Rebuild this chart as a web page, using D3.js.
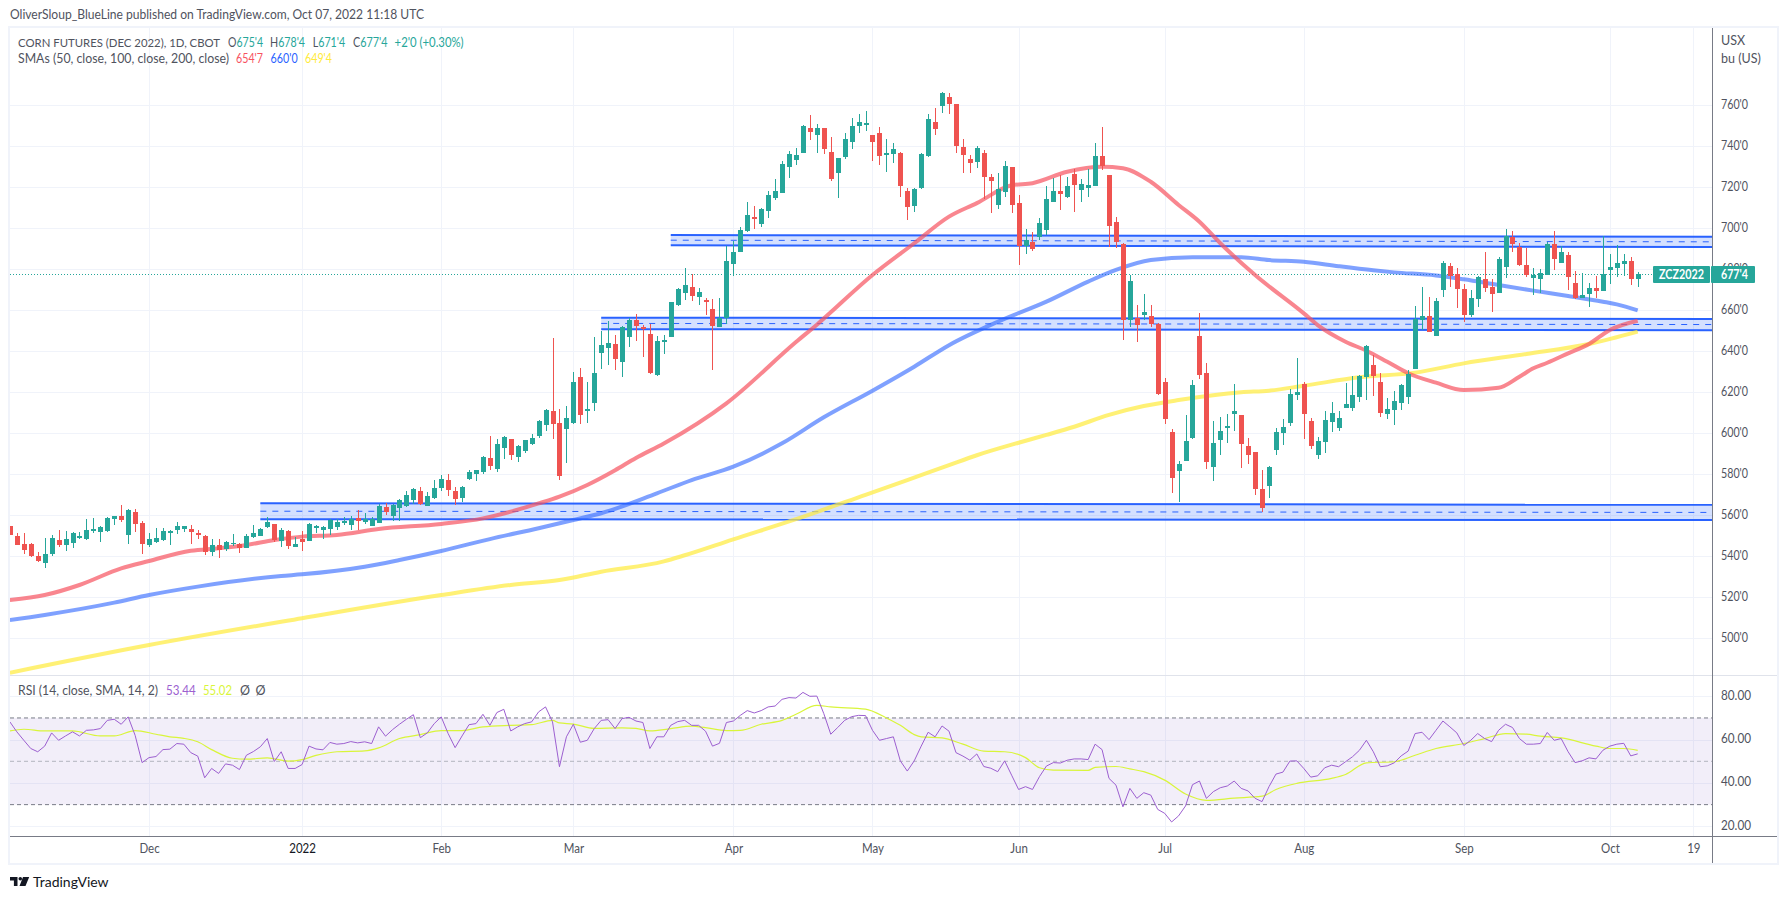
<!DOCTYPE html>
<html>
<head>
<meta charset="utf-8">
<title>Corn futures</title>
<script src="https://cdn.jsdelivr.net/npm/d3@7"></script>
<style>
html, body { margin: 0; padding: 0; background: #fff; }
svg { display: block; }
text { font-family: "Lato", sans-serif; font-size: 12.5px; fill: #50535e; }
</style>
</head>
<body>
<svg id="chart" width="1787" height="899"></svg>
<script>
//data
var opens = [
 554.8,549.9,546.0,546.0,540.2,536.7,541.1,548.0,545.5,546.5,
 548.9,548.5,552.4,551.9,552.4,558.2,559.7,550.4,561.6,556.3,
 545.5,547.0,548.0,551.4,552.8,553.3,553.3,551.4,549.9,542.1,
 545.5,543.6,546.0,546.0,544.1,549.4,549.9,554.3,555.8,547.5,
 552.4,544.6,548.5,547.5,553.8,552.8,553.3,554.3,556.3,555.3,
 558.7,556.7,554.8,556.3,564.1,559.7,563.6,564.5,567.5,571.9,
 564.5,568.4,573.3,577.2,571.9,568.4,577.7,580.2,581.1,588.0,
 582.6,592.8,597.2,588.5,591.4,594.8,598.7,604.0,610.9,605.0,
 602.1,605.0,627.5,610.9,614.8,639.2,641.6,643.6,634.8,647.0,
 655.3,651.9,648.5,628.5,644.6,647.0,662.6,668.5,671.4,666.5,
 665.0,660.7,651.9,656.3,682.6,688.5,698.7,705.5,702.1,708.4,
 714.8,717.2,729.9,733.3,736.7,749.0,745.5,749.0,737.2,727.0,
 734.8,742.1,749.9,750.4,745.5,746.5,735.8,736.3,736.7,718.2,
 710.9,719.7,735.3,751.9,759.7,764.1,760.7,739.7,733.8,732.4,
 736.8,725.0,711.4,717.7,729.9,712.4,691.4,693.3,695.8,699.2,
 712.9,718.2,715.3,726.5,718.7,719.7,720.7,735.3,726.0,703.1,
 692.4,655.3,656.3,657.7,657.2,653.3,625.0,600.6,581.6,586.5,
 597.7,647.5,629.4,583.6,596.7,602.6,609.4,609.0,593.8,590.9,
 572.9,574.3,591.9,600.2,605.0,618.7,624.1,606.0,589.4,595.8,
 605.5,602.6,612.4,612.4,617.7,627.5,633.3,625.1,609.4,611.4,
 614.8,617.7,631.4,655.3,657.2,647.5,669.9,681.6,677.7,670.4,
 657.7,665.5,675.3,671.4,668.5,681.1,695.8,690.9,682.1,675.8,
 675.3,677.2,692.4,683.1,687.0,673.3,666.0,668.0,670.9,669.4,
 679.7,680.7,682.6,684.1,675.5];
var highs = [
 554.8,551.4,551.4,546.3,542.1,548.9,550.4,552.8,552.4,551.9,
 551.9,558.2,558.7,554.8,559.2,559.7,565.0,563.1,563.1,557.2,
 551.4,553.8,553.8,552.8,556.8,554.8,555.3,552.8,550.4,548.5,
 548.5,547.5,550.9,546.5,550.9,555.3,553.8,559.2,555.8,553.8,
 552.8,549.4,552.4,556.3,555.3,554.8,558.2,558.2,559.2,559.7,
 562.6,561.1,559.2,565.5,566.0,565.5,567.9,571.9,573.3,573.8,
 571.4,577.2,579.7,580.2,573.8,574.3,582.1,582.1,588.9,598.7,
 597.2,598.7,597.2,594.3,596.8,599.7,606.5,611.9,646.5,611.9,
 613.3,629.9,631.9,625.0,647.0,649.9,654.8,648.0,652.4,656.3,
 658.2,652.8,653.3,647.5,648.0,664.1,670.9,680.7,677.7,670.9,
 666.0,665.5,666.0,691.4,693.8,700.7,712.8,710.9,709.9,718.2,
 724.1,732.8,737.7,739.2,750.4,755.3,750.9,749.0,744.6,734.3,
 746.5,753.8,755.8,757.2,745.5,749.4,743.6,741.6,737.2,719.7,
 719.7,736.7,755.8,758.7,766.5,766.0,760.7,743.6,735.8,740.2,
 738.2,726.5,727.0,732.9,729.9,716.3,699.7,698.2,705.0,720.7,
 724.6,726.0,725.0,729.0,724.1,729.0,741.6,749.4,726.0,705.5,
 692.9,677.2,662.6,668.0,662.6,653.8,627.0,602.1,586.5,609.0,
 626.0,658.7,634.3,606.0,608.0,609.4,624.1,609.0,597.7,590.9,
 582.1,584.1,602.6,607.0,621.6,636.7,625.0,607.5,598.2,610.9,
 615.3,610.9,624.6,628.0,628.5,643.1,638.2,629.4,617.2,620.7,
 624.1,630.9,662.1,671.4,666.5,666.0,684.1,683.1,680.7,672.8,
 669.9,676.8,688.5,675.3,686.0,699.7,698.7,692.9,690.4,680.7,
 680.2,693.3,698.7,691.4,688.5,679.2,678.2,673.3,676.8,696.3,
 687.5,691.9,687.5,686.0,678.5];
var lows = [
 550.4,545.5,541.1,539.8,537.2,534.3,540.2,544.6,542.6,544.1,
 548.5,548.0,551.4,547.0,551.9,555.3,556.8,546.0,551.9,541.1,
 544.6,546.5,547.5,545.5,550.9,551.9,546.0,548.5,540.7,540.2,
 539.2,542.6,545.0,541.6,544.1,548.9,549.9,553.8,547.0,544.6,
 543.6,544.6,542.6,547.5,551.4,548.5,550.4,552.8,555.3,552.8,
 552.8,555.8,554.8,556.3,560.2,557.2,557.2,564.1,565.5,565.0,
 564.5,567.9,571.9,569.4,565.0,566.5,577.2,576.7,580.2,582.1,
 581.1,587.5,587.0,586.0,590.4,594.3,597.7,601.1,597.2,577.2,
 585.5,604.5,604.5,605.0,610.9,631.4,633.3,630.9,627.5,642.1,
 645.0,637.2,628.9,628.0,638.7,647.0,662.1,665.0,664.6,662.6,
 657.7,630.9,651.9,653.3,676.7,688.5,698.2,699.7,700.7,705.0,
 713.8,717.2,724.6,730.9,736.7,743.1,736.7,736.3,723.1,714.8,
 733.8,738.7,746.5,747.5,732.8,730.9,727.5,731.9,715.3,704.1,
 708.0,719.2,734.8,745.5,756.3,755.8,736.7,727.0,727.0,729.4,
 714.3,707.5,709.4,715.3,707.5,682.1,687.5,689.0,694.3,696.8,
 712.9,709.0,714.8,708.0,712.9,715.3,720.7,728.5,690.9,690.4,
 645.5,651.9,644.6,655.3,651.9,618.7,604.6,570.9,566.5,586.5,
 597.2,626.5,582.6,576.7,589.4,595.3,601.1,583.1,585.0,569.9,
 561.6,568.5,589.4,594.3,603.6,616.3,597.2,592.4,587.5,590.4,
 600.7,601.2,612.4,610.9,615.3,616.3,618.2,608.0,607.0,604.1,
 611.4,614.3,631.4,650.4,649.4,647.5,666.5,671.4,661.1,654.3,
 656.8,661.6,669.0,659.2,668.5,675.8,688.5,681.6,676.3,667.5,
 668.5,677.2,679.7,683.1,669.9,665.5,666.0,661.6,666.0,669.4,
 672.8,676.3,676.8,672.4,671.5];
var closes = [
 550.6,545.5,543.1,540.2,537.7,541.1,548.9,545.5,548.5,551.4,
 549.9,552.8,553.3,554.3,558.7,559.7,557.7,562.6,555.8,546.0,
 548.5,548.9,552.4,552.4,554.8,554.8,551.9,550.4,542.1,545.5,
 543.1,547.0,546.5,544.1,549.9,551.4,553.3,556.8,548.0,552.8,
 545.0,546.0,547.0,555.8,554.8,554.3,557.7,556.7,557.2,558.2,
 557.2,558.2,558.2,564.5,561.6,565.0,567.5,569.9,572.9,565.5,
 569.4,573.3,577.7,572.4,567.9,573.8,581.1,582.1,588.5,584.0,
 594.8,598.2,589.4,593.8,596.8,597.7,606.0,611.4,604.5,579.2,
 607.5,625.0,608.9,611.9,629.4,643.1,644.1,636.3,651.9,655.3,
 652.4,650.9,629.4,645.0,645.5,664.1,670.4,672.4,667.0,668.9,
 664.1,652.4,656.3,684.1,688.5,699.2,706.5,704.6,709.4,716.3,
 718.2,731.4,736.3,735.8,749.9,747.0,749.0,738.7,724.1,734.3,
 743.6,749.9,751.9,751.4,742.1,735.3,736.7,738.7,720.7,710.4,
 719.2,736.3,753.3,748.5,766.0,760.7,740.2,735.8,731.9,739.2,
 725.0,723.1,719.2,730.4,711.4,691.4,694.3,689.9,702.6,714.3,
 718.2,716.7,720.7,721.1,721.6,721.1,735.3,730.4,701.1,693.3,
 655.3,674.3,652.8,659.2,653.3,619.2,607.0,578.2,585.0,596.3,
 623.6,628.5,586.0,595.3,601.1,603.6,610.9,594.8,589.4,572.9,
 563.6,583.6,600.6,603.1,619.2,620.2,609.4,593.8,596.3,606.5,
 610.0,607.5,614.3,618.7,628.0,642.6,628.0,610.0,611.9,615.8,
 623.6,629.0,655.8,657.2,649.4,664.6,683.1,676.8,670.4,657.7,
 666.0,676.3,670.9,668.0,685.0,696.3,692.4,682.1,677.2,677.2,
 678.2,692.4,685.0,688.5,676.3,666.0,667.5,670.9,669.4,677.7,
 681.1,683.1,684.1,675.3,677.5];

var rsi = [
 68.2,63.6,59.7,55.9,54.4,57.0,63.1,59.7,61.7,63.6,
 61.7,64.3,64.5,65.1,68.9,69.4,67.1,70.5,62.0,49.4,
 51.7,52.2,55.4,55.6,58.2,57.9,54.0,52.4,42.4,46.7,
 44.4,48.8,48.2,46.2,52.8,54.5,56.7,60.5,49.9,54.4,
 46.7,46.7,48.5,57.0,55.7,55.3,58.7,57.9,58.2,59.1,
 58.5,59.0,58.2,65.9,61.6,64.6,67.1,69.4,71.5,60.9,
 63.1,67.4,70.5,62.8,56.3,61.7,66.9,67.4,71.7,66.6,
 72.5,74.0,64.0,65.9,67.4,68.2,72.8,75.1,68.2,47.5,
 61.3,67.1,58.8,59.7,65.1,68.9,69.2,65.1,69.7,70.3,
 68.6,67.9,55.9,61.3,61.3,66.6,68.3,68.9,66.6,66.6,
 63.9,57.0,58.3,67.9,68.6,71.2,73.4,72.3,73.4,75.1,
 75.5,78.6,79.4,79.2,81.8,80.0,80.1,72.0,62.5,65.6,
 68.9,70.6,71.2,71.1,64.3,59.7,60.5,61.3,50.2,45.5,
 50.2,57.0,63.4,61.3,66.3,63.9,54.0,52.4,50.5,53.4,
 47.6,46.8,45.2,50.2,43.6,37.0,38.3,37.0,42.9,47.8,
 49.4,49.2,50.5,51.1,51.1,50.8,57.9,55.4,42.1,39.0,
 29.0,37.5,32.9,35.5,34.4,27.8,26.0,22.0,24.8,29.4,
 39.2,40.9,32.9,36.0,37.8,38.6,40.9,37.5,36.3,32.9,
 31.4,38.3,44.1,45.0,50.1,50.2,46.7,42.7,43.3,47.0,
 48.2,47.5,49.8,52.1,55.1,59.7,54.4,47.5,47.9,49.3,
 52.5,54.7,62.8,63.4,60.0,64.3,68.6,65.9,63.1,57.3,
 59.7,62.8,60.5,59.1,64.3,67.1,65.6,60.5,57.9,57.9,
 58.2,63.3,59.7,60.5,54.4,49.4,50.2,51.6,51.1,55.1,
 57.0,57.9,58.3,52.5,53.44];

var sma50Bars = [0,5,10,16,20,26,30,34,38,42,47,53,62,68,72,76,79,83,87,90,94,103,113,116,124,130,135,139,144,147,152,157,160,164,168,171,174,179,186,188,192,195,198,201,205,209,214,217,219,221,224,227,230,234];
var sma50Vals = [518.7,521.1,526,534.1,537.7,542.7,543.9,545.5,548,549.6,550.4,553.3,555.8,558.5,561.8,565.8,569.1,574.8,582,588,595,614.6,644.5,653,677.2,692.7,705.7,712.3,721,722,727.6,730,729.3,722.7,711.4,703.2,692.7,677.2,658.5,652.8,644.7,640.3,634.9,629.3,624.7,621.1,622.2,627.6,631.7,634.4,639,643.6,650.4,654.9];
var sma100Bars = [0,5,15,20,27,39,42,51,56,62,69,76,81,85,93,98,104,111,117,124,130,135,142,149,155,159,164,170,177,181,186,191,196,199,205,209,214,219,224,229,231,234];
var sma100Vals = [508.9,511.4,517.4,521.1,525.2,530.4,531.2,534.9,538.2,542.6,548.4,553.7,557.7,561,570.7,577.2,583.7,595.1,607.8,620.8,632.5,643,654.4,664.2,674,679.7,684.5,685.9,685.9,684.5,683.7,681.5,679.5,678.5,677,675.1,672.3,669.6,667,664.2,662.9,660];
var sma200Bars = [0,20,42,62,72,79,85,94,97,104,113,123,129,135,139,145,149,153,158,163,168,177,181,186,194,202,209,218,227,234];
var sma200Vals = [483.2,496.7,509.8,521.1,526,528.4,532.5,537.5,540.5,548.3,558.1,570,577.2,584.5,589.3,595.4,599.2,603.2,609,613.3,616.2,620,620.8,623.2,627.3,629.6,634.1,638.7,643.6,649.6];
var rsiMaBars = [0,2,5,9,13,15,18,21,23,25,27,29,32,34,37,40,42,44,47,51,53,56,59,62,65,68,72,75,78,79,81,84,88,90,92,95,98,100,103,105,108,111,113,116,118,123,126,128,130,131,134,137,140,143,146,148,150,155,156,159,161,163,166,169,172,176,180,182,185,190,192,195,199,202,205,209,212,215,218,220,223,228,230,232,234];
var rsiMaVals = [64.0,64.8,64.0,64.0,61.7,61.7,64.2,62.5,61.3,60.6,59.0,55.4,51.4,51.0,51.6,50.1,50.8,52.7,54.4,54.8,56.2,60.5,62.3,64.2,64.2,65.9,66.6,66.9,68.9,67.7,67.2,65.2,65.4,65.2,64.0,65.1,66.2,65.5,64.2,64.3,67.1,68.9,71.7,75.8,75.1,74.1,70.0,66.6,62.3,61.3,60.8,57.9,54.7,54.4,51.7,47.0,45.9,45.8,47.2,47.6,46.5,45.2,41.3,34.9,32.0,33.0,33.9,37.0,39.8,42.1,43.9,49.3,49.8,52.8,55.9,58.2,60.5,62.8,62.5,61.6,60.8,57.0,55.9,55.9,55.02];

// support and resistance channels: start bar, end bar, top and bottom edge at both ends
var zoneStartBars = [36,85,95];
var zoneEndBars = [245,245,245];
var zoneTopStart = [565.9,656.4,696.7];
var zoneTopEnd = [565.1,655.8,695.9];
var zoneBottomStart = [558.1,650.8,691.7];
var zoneBottomEnd = [557.7,650.3,690.9];

var priceTicks = [500,520,540,560,580,600,620,640,660,680,700,720,740,760];
var rsiTicks = [20,40,60,80];
var rsiLevels = [70,50,30];
var timeTickBars = [20,42,62,81,104,124,145,166,186,209,230,242];
var timeTickLabels = ["Dec","2022","Feb","Mar","Apr","May","Jun","Jul","Aug","Sep","Oct","19"];
var lastPrice = 677.5;

//colours
var upColor = "#26a69a", downColor = "#ef5350", zoneColor = "#2962ff";
var sma50Color = "#f7525f", sma100Color = "#2962ff", sma200Color = "#ffeb3b";
var rsiColor = "#9c5fd0", rsiMaColor = "#d9f53a", gridColor = "#f0f3fa", axisColor = "#787b86";

//layout
var leftX = 10, axisX = 1712, rightX = 1777, topY = 28, paneBottom = 675, timeY = 836, bottomY = 863;

var x = d3.scaleLinear().domain([0,234]).range([9.9,1637.7]);
var y = d3.scaleLinear().domain([500,760]).range([638.3,105.3]);
var yRsi = d3.scaleLinear().domain([20,80]).range([826.3,696.3]);

var svg = d3.select("#chart");
var defs = svg.append("defs");
defs.append("clipPath").attr("id","mainClip").append("rect")
	.attr("x",leftX).attr("y",topY).attr("width",axisX-leftX).attr("height",paneBottom-topY);
defs.append("clipPath").attr("id","rsiClip").append("rect")
	.attr("x",leftX).attr("y",paneBottom).attr("width",axisX-leftX).attr("height",timeY-paneBottom);

//squeeze a text to the width it has in the reference
function fit(sel,width){
	sel.attr("textLength",width).attr("lengthAdjust","spacingAndGlyphs");
}

//title
fit(svg.append("text").attr("x",10).attr("y",19)
	.text("OliverSloup_BlueLine published on TradingView.com, Oct 07, 2022 11:18 UTC"),414);

//grid
var grid = svg.append("g");
grid.selectAll(".vgrid").data(timeTickBars).enter().append("line").attr("class","vgrid")
	.attr("x1",function(d){ return Math.round(x(d))+0.5; })
	.attr("x2",function(d){ return Math.round(x(d))+0.5; })
	.attr("y1",topY).attr("y2",timeY)
	.attr("stroke",gridColor);
grid.selectAll(".hgrid").data(priceTicks).enter().append("line").attr("class","hgrid")
	.attr("x1",leftX).attr("x2",axisX)
	.attr("y1",function(d){ return Math.round(y(d))+0.5; })
	.attr("y2",function(d){ return Math.round(y(d))+0.5; })
	.attr("stroke",gridColor);
grid.selectAll(".rgrid").data(rsiTicks).enter().append("line").attr("class","rgrid")
	.attr("x1",leftX).attr("x2",axisX)
	.attr("y1",function(d){ return Math.round(yRsi(d))+0.5; })
	.attr("y2",function(d){ return Math.round(yRsi(d))+0.5; })
	.attr("stroke",gridColor);

//last price dotted line
svg.append("line")
	.attr("x1",leftX).attr("x2",axisX)
	.attr("y1",Math.round(y(lastPrice))+0.5).attr("y2",Math.round(y(lastPrice))+0.5)
	.attr("stroke",upColor).attr("stroke-dasharray","1,2");

//main pane
var main = svg.append("g").attr("clip-path","url(#mainClip)");

//channels
zoneStartBars.forEach(function(start,i){
	var end = zoneEndBars[i];
	main.append("path")
		.attr("d",d3.line()([
			[x(start),y(zoneTopStart[i])],[x(end),y(zoneTopEnd[i])],
			[x(end),y(zoneBottomEnd[i])],[x(start),y(zoneBottomStart[i])]
		])+"Z")
		.attr("fill",zoneColor).attr("fill-opacity",0.2);
	main.append("line")
		.attr("x1",x(start)).attr("x2",x(end))
		.attr("y1",y(zoneTopStart[i])).attr("y2",y(zoneTopEnd[i]))
		.attr("stroke",zoneColor).attr("stroke-width",2);
	main.append("line")
		.attr("x1",x(start)).attr("x2",x(end))
		.attr("y1",y(zoneBottomStart[i])).attr("y2",y(zoneBottomEnd[i]))
		.attr("stroke",zoneColor).attr("stroke-width",2);
	main.append("line")
		.attr("x1",x(start)).attr("x2",x(end))
		.attr("y1",y((zoneTopStart[i]+zoneBottomStart[i])/2))
		.attr("y2",y((zoneTopEnd[i]+zoneBottomEnd[i])/2))
		.attr("stroke",zoneColor).attr("stroke-dasharray","6,6");
});

//moving averages
function drawAverage(parent,bars,vals,scale,color,width,opacity){
	var line = d3.line()
		.x(function(d){ return x(d); })
		.y(function(d,i){ return scale(vals[i]); })
		.curve(d3.curveMonotoneX);
	parent.append("path")
		.attr("d",line(bars))
		.attr("fill","none")
		.attr("stroke",color)
		.attr("stroke-width",width)
		.attr("stroke-opacity",opacity);
}
drawAverage(main,sma200Bars,sma200Vals,y,sma200Color,4,0.7);
drawAverage(main,sma100Bars,sma100Vals,y,sma100Color,4,0.6);
drawAverage(main,sma50Bars,sma50Vals,y,sma50Color,4,0.7);

//candles
var candles = main.selectAll(".candle").data(closes).enter().append("g").attr("class","candle")
	.attr("shape-rendering","crispEdges");
candles.append("line")
	.attr("x1",function(d,i){ return Math.round(x(i))+0.5; })
	.attr("x2",function(d,i){ return Math.round(x(i))+0.5; })
	.attr("y1",function(d,i){ return y(highs[i]); })
	.attr("y2",function(d,i){ return y(lows[i]); })
	.attr("stroke",function(d,i){ return d>=opens[i] ? upColor : downColor; });
candles.append("rect")
	.attr("x",function(d,i){ return Math.round(x(i))-2; })
	.attr("width",5)
	.attr("y",function(d,i){ return y(Math.max(d,opens[i])); })
	.attr("height",function(d,i){ return Math.max(1,Math.abs(y(d)-y(opens[i]))); })
	.attr("fill",function(d,i){ return d>=opens[i] ? upColor : downColor; });

//rsi pane
svg.append("rect")
	.attr("x",leftX).attr("width",axisX-leftX)
	.attr("y",yRsi(70)).attr("height",yRsi(30)-yRsi(70))
	.attr("fill","#7e57c2").attr("fill-opacity",0.1);
svg.selectAll(".level").data(rsiLevels).enter().append("line").attr("class","level")
	.attr("x1",leftX).attr("x2",axisX)
	.attr("y1",function(d){ return yRsi(d); })
	.attr("y2",function(d){ return yRsi(d); })
	.attr("stroke",function(d){ return d==50 ? "#b2b5be" : axisColor; })
	.attr("stroke-dasharray","4,3");
var rsiPane = svg.append("g").attr("clip-path","url(#rsiClip)");
drawAverage(rsiPane,rsiMaBars,rsiMaVals,yRsi,rsiMaColor,1.2,1);
rsiPane.append("path")
	.attr("d",d3.line()
		.x(function(d,i){ return x(i); })
		.y(function(d){ return yRsi(d); })(rsi))
	.attr("fill","none").attr("stroke",rsiColor).attr("stroke-width",1);

//frame and separators
svg.append("rect").attr("x",leftX-1).attr("y",topY-1).attr("width",rightX-leftX+2).attr("height",bottomY-topY+2)
	.attr("fill","none").attr("stroke",gridColor).attr("stroke-width",2);
svg.append("line").attr("x1",leftX).attr("x2",rightX).attr("y1",paneBottom+0.5).attr("y2",paneBottom+0.5).attr("stroke","#e0e3eb");
svg.append("line").attr("x1",leftX).attr("x2",rightX).attr("y1",timeY+0.5).attr("y2",timeY+0.5).attr("stroke",axisColor);
svg.append("line").attr("x1",axisX+0.5).attr("x2",axisX+0.5).attr("y1",topY).attr("y2",bottomY).attr("stroke",axisColor);

//axes
var priceAxis = d3.axisRight(y).tickValues(priceTicks).tickSize(0).tickPadding(0)
	.tickFormat(function(d){ return d+"'0"; });
var rsiAxis = d3.axisRight(yRsi).tickValues(rsiTicks).tickSize(0).tickPadding(0)
	.tickFormat(function(d){ return d3.format(".2f")(d); });
var timeAxis = d3.axisBottom(x).tickValues(timeTickBars).tickSize(0).tickPadding(0)
	.tickFormat(function(d,i){ return timeTickLabels[i]; });

var priceG = svg.append("g").attr("class","axis").attr("transform","translate(1721,-1)").call(priceAxis);
var rsiG = svg.append("g").attr("class","axis").attr("transform","translate(1721,-1)").call(rsiAxis);
var timeG = svg.append("g").attr("class","axis").attr("transform","translate(0,844)").call(timeAxis);
svg.selectAll(".axis path").remove();
svg.selectAll(".axis").attr("font-family",null).attr("font-size",null);
fit(priceG.selectAll("text"),27);
fit(rsiG.selectAll("text"),30);
timeG.selectAll("text").each(function(){
	var t = d3.select(this);
	t.attr("textLength",this.getComputedTextLength()*0.92).attr("lengthAdjust","spacingAndGlyphs");
	if(this.textContent=="2022") t.style("fill","#131722");
});

//currency label
svg.append("text").attr("x",1721).attr("y",45).text("USX");
svg.append("text").attr("x",1721).attr("y",63).text("bu (US)");

//last price labels
svg.append("rect").attr("x",1653).attr("y",266).attr("width",57).attr("height",17).attr("rx",1).attr("fill",upColor);
svg.append("rect").attr("x",1711).attr("y",266).attr("width",44).attr("height",17).attr("rx",1).attr("fill",upColor);
fit(svg.append("text").attr("x",1659).attr("y",279).style("fill","#fff").style("font-weight","bold").text("ZCZ2022"),45);
fit(svg.append("text").attr("x",1721).attr("y",279).style("fill","#fff").style("font-weight","bold").text("677'4"),27);

//legends: items are [x, width, [text,colour], [text,colour]...], a letter and its value share one text
function legend(yPos,items){
	items.forEach(function(item){
		var t = svg.append("text").attr("x",item[0]).attr("y",yPos);
		item.slice(2).forEach(function(part){
			t.append("tspan").style("fill",part[1]).text(part[0]);
		});
		if(item[1]) fit(t,item[1]);
	});
}
var legendGray = "#50535e", teal = "#26a69a";
legend(46.5,[
	[18,202,["CORN FUTURES (DEC 2022), 1D, CBOT",legendGray]],
	[228,35,["O",legendGray],["675'4",teal]],
	[270,35,["H",legendGray],["678'4",teal]],
	[312.7,32.5,["L",legendGray],["671'4",teal]],
	[353,34.5,["C",legendGray],["677'4",teal]],
	[394.6,69,["+2'0 (+0.30%)",teal]]
]);
svg.selectAll("text").filter(function(){ return this.textContent.indexOf("CORN")==0; }).style("font-size","11.7px");
legend(63,[
	[18,211,["SMAs (50, close, 100, close, 200, close)",legendGray]],
	[236,27,["654'7",sma50Color]],[270.6,27,["660'0",sma100Color]],[305,27,["649'4",sma200Color]]
]);
legend(695,[
	[18,140,["RSI (14, close, SMA, 14, 2)",legendGray]],
	[166,29.6,["53.44",rsiColor]],[203,29,["55.02",rsiMaColor]],
	[240,0,["\u00d8",legendGray]],[255.6,0,["\u00d8",legendGray]]
]);

//footer logo
svg.append("path").attr("fill","#131722")
	.attr("d","M10 877h7.5v9h-3.6v-5.6h-3.9zM23 877h6.2l-3.7 9h-6z");
svg.append("circle").attr("cx",20.3).attr("cy",878.8).attr("r",1.8).attr("fill","#131722");
svg.append("text").attr("x",33).attr("y",886.5).style("fill","#131722").style("font-size","14px").text("TradingView");
</script>
</body>
</html>
